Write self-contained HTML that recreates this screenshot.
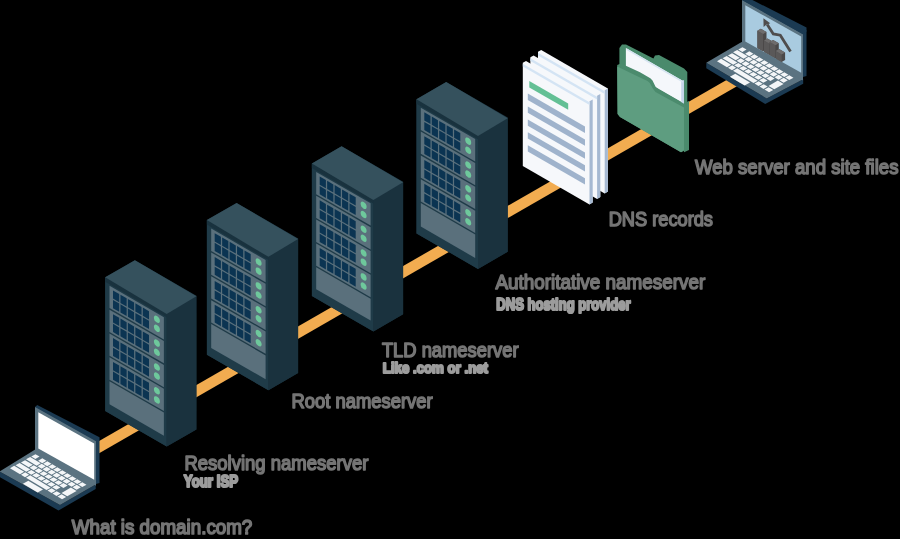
<!DOCTYPE html><html><head><meta charset="utf-8"><style>html,body{margin:0;padding:0;background:#000;}svg{display:block}</style></head><body>
<svg width="900" height="539" viewBox="0 0 900 539">
<defs>
<g id="lapL"><polygon points="-0.50,471.50 60.00,505.00 95.70,484.50 95.70,489.00 58.50,510.50 -0.50,477.00" fill="#1b3a52"/>
<polygon points="-0.50,471.50 35.20,449.50 95.70,484.50 60.00,505.00" fill="#5b7381"/>
<g transform="matrix(1 0.5984 1 -0.5718 -0.5 469.5)" fill="#f4f6f8">
<rect x="4.45" y="27.32" width="4.10" height="4.15"/>
<rect x="11.32" y="27.32" width="4.15" height="4.15"/>
<rect x="16.32" y="27.32" width="4.15" height="4.15"/>
<rect x="21.32" y="27.32" width="4.15" height="4.15"/>
<rect x="26.32" y="27.32" width="4.15" height="4.15"/>
<rect x="31.32" y="27.32" width="4.15" height="4.15"/>
<rect x="36.32" y="27.32" width="4.15" height="4.15"/>
<rect x="41.32" y="27.32" width="4.15" height="4.15"/>
<rect x="46.32" y="27.32" width="4.15" height="4.15"/>
<rect x="51.32" y="27.32" width="4.15" height="4.15"/>
<rect x="4.30" y="22.23" width="10.60" height="4.15"/>
<rect x="15.78" y="22.23" width="4.15" height="4.15"/>
<rect x="20.78" y="22.23" width="4.15" height="4.15"/>
<rect x="25.78" y="22.23" width="4.15" height="4.15"/>
<rect x="30.78" y="22.23" width="4.15" height="4.15"/>
<rect x="35.77" y="22.23" width="4.15" height="4.15"/>
<rect x="40.77" y="22.23" width="4.15" height="4.15"/>
<rect x="45.77" y="22.23" width="4.15" height="4.15"/>
<rect x="50.77" y="22.23" width="4.15" height="4.15"/>
<rect x="4.50" y="16.93" width="7.80" height="4.15"/>
<rect x="13.18" y="16.93" width="4.15" height="4.15"/>
<rect x="18.14" y="16.93" width="4.15" height="4.15"/>
<rect x="23.09" y="16.93" width="4.15" height="4.15"/>
<rect x="28.04" y="16.93" width="4.15" height="4.15"/>
<rect x="32.98" y="16.93" width="4.15" height="4.15"/>
<rect x="37.93" y="16.93" width="4.15" height="4.15"/>
<rect x="42.88" y="16.93" width="4.15" height="4.15"/>
<rect x="4.30" y="11.73" width="10.70" height="4.15"/>
<rect x="15.93" y="11.73" width="4.15" height="4.15"/>
<rect x="20.93" y="11.73" width="4.15" height="4.15"/>
<rect x="25.93" y="11.73" width="4.15" height="4.15"/>
<rect x="30.93" y="11.73" width="4.15" height="4.15"/>
<rect x="35.92" y="11.73" width="4.15" height="4.15"/>
<rect x="40.92" y="11.73" width="4.15" height="4.15"/>
<rect x="50.30" y="11.75" width="5.70" height="9.30"/>
<rect x="4.00" y="6.52" width="10.00" height="4.15"/>
<rect x="15.00" y="6.52" width="4.00" height="4.15"/>
<rect x="20.00" y="6.52" width="20.50" height="4.15"/>
<rect x="41.50" y="6.52" width="4.00" height="4.15"/>
<rect x="46.50" y="6.52" width="4.00" height="4.15"/>
<rect x="51.50" y="6.52" width="4.50" height="4.15"/>
<rect x="23.6" y="-0.2" width="14.7" height="5.4"/>
</g>
<polygon points="37.20,405.00 99.50,437.30 99.50,483.10 96.00,483.96 35.00,407.00" fill="#1b3a52"/>
<polygon points="35.00,407.00 96.00,441.16 96.00,485.70 35.00,450.70" fill="#5b7381"/>
<g transform="matrix(1 0.56 0 1 35 407)">
<rect x="3.3" y="3.35" width="55.9" height="36.3" fill="#ffffff"/>
</g></g>
<g id="lapR"><polygon points="-0.70,469.80 59.70,505.40 96.20,486.20 96.20,490.70 58.20,510.90 -0.70,475.30" fill="#1b3a52"/>
<polygon points="-0.70,469.80 34.60,449.00 96.20,486.20 59.70,505.40" fill="#5b7381"/>
<g transform="matrix(1 0.5984 1 -0.5718 -0.5 469.5)" fill="#f4f6f8">
<rect x="4.45" y="27.32" width="4.10" height="4.15"/>
<rect x="11.32" y="27.32" width="4.15" height="4.15"/>
<rect x="16.32" y="27.32" width="4.15" height="4.15"/>
<rect x="21.32" y="27.32" width="4.15" height="4.15"/>
<rect x="26.32" y="27.32" width="4.15" height="4.15"/>
<rect x="31.32" y="27.32" width="4.15" height="4.15"/>
<rect x="36.32" y="27.32" width="4.15" height="4.15"/>
<rect x="41.32" y="27.32" width="4.15" height="4.15"/>
<rect x="46.32" y="27.32" width="4.15" height="4.15"/>
<rect x="51.32" y="27.32" width="4.15" height="4.15"/>
<rect x="4.30" y="22.23" width="10.60" height="4.15"/>
<rect x="15.78" y="22.23" width="4.15" height="4.15"/>
<rect x="20.78" y="22.23" width="4.15" height="4.15"/>
<rect x="25.78" y="22.23" width="4.15" height="4.15"/>
<rect x="30.78" y="22.23" width="4.15" height="4.15"/>
<rect x="35.77" y="22.23" width="4.15" height="4.15"/>
<rect x="40.77" y="22.23" width="4.15" height="4.15"/>
<rect x="45.77" y="22.23" width="4.15" height="4.15"/>
<rect x="50.77" y="22.23" width="4.15" height="4.15"/>
<rect x="4.50" y="16.93" width="7.80" height="4.15"/>
<rect x="13.18" y="16.93" width="4.15" height="4.15"/>
<rect x="18.14" y="16.93" width="4.15" height="4.15"/>
<rect x="23.09" y="16.93" width="4.15" height="4.15"/>
<rect x="28.04" y="16.93" width="4.15" height="4.15"/>
<rect x="32.98" y="16.93" width="4.15" height="4.15"/>
<rect x="37.93" y="16.93" width="4.15" height="4.15"/>
<rect x="42.88" y="16.93" width="4.15" height="4.15"/>
<rect x="4.30" y="11.73" width="10.70" height="4.15"/>
<rect x="15.93" y="11.73" width="4.15" height="4.15"/>
<rect x="20.93" y="11.73" width="4.15" height="4.15"/>
<rect x="25.93" y="11.73" width="4.15" height="4.15"/>
<rect x="30.93" y="11.73" width="4.15" height="4.15"/>
<rect x="35.92" y="11.73" width="4.15" height="4.15"/>
<rect x="40.92" y="11.73" width="4.15" height="4.15"/>
<rect x="50.30" y="11.75" width="5.70" height="9.30"/>
<rect x="4.00" y="6.52" width="10.00" height="4.15"/>
<rect x="15.00" y="6.52" width="4.00" height="4.15"/>
<rect x="20.00" y="6.52" width="20.50" height="4.15"/>
<rect x="41.50" y="6.52" width="4.00" height="4.15"/>
<rect x="46.50" y="6.52" width="4.00" height="4.15"/>
<rect x="51.50" y="6.52" width="4.50" height="4.15"/>
<rect x="23.6" y="-0.2" width="14.7" height="5.4"/>
</g>
<polygon points="37.20,405.00 99.50,437.30 99.50,483.10 96.00,483.96 35.00,407.00" fill="#1b3a52"/>
<polygon points="35.00,407.00 96.00,441.16 96.00,487.40 35.00,450.20" fill="#5b7381"/>
<g transform="matrix(1 0.56 0 1 35 407)">
<rect x="3.3" y="3.35" width="55.9" height="36.3" fill="#a9cbe0"/>
</g></g>
<filter id="tb" x="-5%" y="-20%" width="110%" height="140%"><feGaussianBlur stdDeviation="0.45"/></filter>
</defs>
<rect width="900" height="539" fill="#000"/>
<polygon points="90.00,446.27 740.00,72.13 740.00,84.43 90.00,458.57" fill="#f2ac50"/>
<use href="#lapL"/>
<g transform="translate(105.2 277.3)"><polygon points="0.00,0.00 29.70,-17.15 91.20,18.36 91.20,152.16 61.50,169.31 0.00,133.80" fill="#1a323e"/>
<polygon points="0.00,0.00 61.50,35.51 61.50,169.31 0.00,133.80" fill="#1f3b48"/>
<polygon points="61.50,35.51 91.20,18.36 91.20,152.16 61.50,169.31" fill="#1a323e"/>
<g transform="matrix(1 0.5774 0 1 0 0)">
<rect x="0" y="0" width="61.5" height="4.5" fill="#19323e"/>
<rect x="4.3" y="6.00" width="54.4" height="22.3" fill="#5a707c"/>
<rect x="7.80" y="8.60" width="6.2" height="8.2" fill="#0b3452"/>
<rect x="15.25" y="8.60" width="6.2" height="8.2" fill="#0b3452"/>
<rect x="22.70" y="8.60" width="6.2" height="8.2" fill="#0b3452"/>
<rect x="30.15" y="8.60" width="6.2" height="8.2" fill="#0b3452"/>
<rect x="37.60" y="8.60" width="6.2" height="8.2" fill="#0b3452"/>
<rect x="7.80" y="18.20" width="6.2" height="8.2" fill="#0b3452"/>
<rect x="15.25" y="18.20" width="6.2" height="8.2" fill="#0b3452"/>
<rect x="22.70" y="18.20" width="6.2" height="8.2" fill="#0b3452"/>
<rect x="30.15" y="18.20" width="6.2" height="8.2" fill="#0b3452"/>
<rect x="37.60" y="18.20" width="6.2" height="8.2" fill="#0b3452"/>
<ellipse cx="51.7" cy="12.10" rx="3.0" ry="3.3" fill="#6ec89c"/>
<ellipse cx="51.7" cy="21.20" rx="3.0" ry="3.3" fill="#6ec89c"/>
<rect x="4.3" y="29.85" width="54.4" height="22.3" fill="#5a707c"/>
<rect x="7.80" y="32.45" width="6.2" height="8.2" fill="#0b3452"/>
<rect x="15.25" y="32.45" width="6.2" height="8.2" fill="#0b3452"/>
<rect x="22.70" y="32.45" width="6.2" height="8.2" fill="#0b3452"/>
<rect x="30.15" y="32.45" width="6.2" height="8.2" fill="#0b3452"/>
<rect x="37.60" y="32.45" width="6.2" height="8.2" fill="#0b3452"/>
<rect x="7.80" y="42.05" width="6.2" height="8.2" fill="#0b3452"/>
<rect x="15.25" y="42.05" width="6.2" height="8.2" fill="#0b3452"/>
<rect x="22.70" y="42.05" width="6.2" height="8.2" fill="#0b3452"/>
<rect x="30.15" y="42.05" width="6.2" height="8.2" fill="#0b3452"/>
<rect x="37.60" y="42.05" width="6.2" height="8.2" fill="#0b3452"/>
<ellipse cx="51.7" cy="35.95" rx="3.0" ry="3.3" fill="#6ec89c"/>
<ellipse cx="51.7" cy="45.05" rx="3.0" ry="3.3" fill="#6ec89c"/>
<rect x="4.3" y="53.70" width="54.4" height="22.3" fill="#5a707c"/>
<rect x="7.80" y="56.30" width="6.2" height="8.2" fill="#0b3452"/>
<rect x="15.25" y="56.30" width="6.2" height="8.2" fill="#0b3452"/>
<rect x="22.70" y="56.30" width="6.2" height="8.2" fill="#0b3452"/>
<rect x="30.15" y="56.30" width="6.2" height="8.2" fill="#0b3452"/>
<rect x="37.60" y="56.30" width="6.2" height="8.2" fill="#0b3452"/>
<rect x="7.80" y="65.90" width="6.2" height="8.2" fill="#0b3452"/>
<rect x="15.25" y="65.90" width="6.2" height="8.2" fill="#0b3452"/>
<rect x="22.70" y="65.90" width="6.2" height="8.2" fill="#0b3452"/>
<rect x="30.15" y="65.90" width="6.2" height="8.2" fill="#0b3452"/>
<rect x="37.60" y="65.90" width="6.2" height="8.2" fill="#0b3452"/>
<ellipse cx="51.7" cy="59.80" rx="3.0" ry="3.3" fill="#6ec89c"/>
<ellipse cx="51.7" cy="68.90" rx="3.0" ry="3.3" fill="#6ec89c"/>
<rect x="4.3" y="77.55" width="54.4" height="22.3" fill="#5a707c"/>
<rect x="7.80" y="80.15" width="6.2" height="8.2" fill="#0b3452"/>
<rect x="15.25" y="80.15" width="6.2" height="8.2" fill="#0b3452"/>
<rect x="22.70" y="80.15" width="6.2" height="8.2" fill="#0b3452"/>
<rect x="30.15" y="80.15" width="6.2" height="8.2" fill="#0b3452"/>
<rect x="37.60" y="80.15" width="6.2" height="8.2" fill="#0b3452"/>
<rect x="7.80" y="89.75" width="6.2" height="8.2" fill="#0b3452"/>
<rect x="15.25" y="89.75" width="6.2" height="8.2" fill="#0b3452"/>
<rect x="22.70" y="89.75" width="6.2" height="8.2" fill="#0b3452"/>
<rect x="30.15" y="89.75" width="6.2" height="8.2" fill="#0b3452"/>
<rect x="37.60" y="89.75" width="6.2" height="8.2" fill="#0b3452"/>
<ellipse cx="51.7" cy="83.65" rx="3.0" ry="3.3" fill="#6ec89c"/>
<ellipse cx="51.7" cy="92.75" rx="3.0" ry="3.3" fill="#6ec89c"/>
<rect x="4.3" y="101.40" width="54.4" height="23.10" fill="#5a707c"/>
</g>
<polygon points="0.00,0.00 29.70,-17.15 91.20,18.96 61.50,36.71" fill="#35515d"/></g>
<g transform="translate(206.9 220.1)"><polygon points="0.00,0.00 29.70,-17.15 91.20,18.36 91.20,152.96 61.50,170.11 0.00,134.60" fill="#1a323e"/>
<polygon points="0.00,0.00 61.50,35.51 61.50,170.11 0.00,134.60" fill="#1f3b48"/>
<polygon points="61.50,35.51 91.20,18.36 91.20,152.96 61.50,170.11" fill="#1a323e"/>
<g transform="matrix(1 0.5774 0 1 0 0)">
<rect x="0" y="0" width="61.5" height="4.5" fill="#19323e"/>
<rect x="4.3" y="6.00" width="54.4" height="22.3" fill="#5a707c"/>
<rect x="7.80" y="8.60" width="6.2" height="8.2" fill="#0b3452"/>
<rect x="15.25" y="8.60" width="6.2" height="8.2" fill="#0b3452"/>
<rect x="22.70" y="8.60" width="6.2" height="8.2" fill="#0b3452"/>
<rect x="30.15" y="8.60" width="6.2" height="8.2" fill="#0b3452"/>
<rect x="37.60" y="8.60" width="6.2" height="8.2" fill="#0b3452"/>
<rect x="7.80" y="18.20" width="6.2" height="8.2" fill="#0b3452"/>
<rect x="15.25" y="18.20" width="6.2" height="8.2" fill="#0b3452"/>
<rect x="22.70" y="18.20" width="6.2" height="8.2" fill="#0b3452"/>
<rect x="30.15" y="18.20" width="6.2" height="8.2" fill="#0b3452"/>
<rect x="37.60" y="18.20" width="6.2" height="8.2" fill="#0b3452"/>
<ellipse cx="51.7" cy="12.10" rx="3.0" ry="3.3" fill="#6ec89c"/>
<ellipse cx="51.7" cy="21.20" rx="3.0" ry="3.3" fill="#6ec89c"/>
<rect x="4.3" y="29.85" width="54.4" height="22.3" fill="#5a707c"/>
<rect x="7.80" y="32.45" width="6.2" height="8.2" fill="#0b3452"/>
<rect x="15.25" y="32.45" width="6.2" height="8.2" fill="#0b3452"/>
<rect x="22.70" y="32.45" width="6.2" height="8.2" fill="#0b3452"/>
<rect x="30.15" y="32.45" width="6.2" height="8.2" fill="#0b3452"/>
<rect x="37.60" y="32.45" width="6.2" height="8.2" fill="#0b3452"/>
<rect x="7.80" y="42.05" width="6.2" height="8.2" fill="#0b3452"/>
<rect x="15.25" y="42.05" width="6.2" height="8.2" fill="#0b3452"/>
<rect x="22.70" y="42.05" width="6.2" height="8.2" fill="#0b3452"/>
<rect x="30.15" y="42.05" width="6.2" height="8.2" fill="#0b3452"/>
<rect x="37.60" y="42.05" width="6.2" height="8.2" fill="#0b3452"/>
<ellipse cx="51.7" cy="35.95" rx="3.0" ry="3.3" fill="#6ec89c"/>
<ellipse cx="51.7" cy="45.05" rx="3.0" ry="3.3" fill="#6ec89c"/>
<rect x="4.3" y="53.70" width="54.4" height="22.3" fill="#5a707c"/>
<rect x="7.80" y="56.30" width="6.2" height="8.2" fill="#0b3452"/>
<rect x="15.25" y="56.30" width="6.2" height="8.2" fill="#0b3452"/>
<rect x="22.70" y="56.30" width="6.2" height="8.2" fill="#0b3452"/>
<rect x="30.15" y="56.30" width="6.2" height="8.2" fill="#0b3452"/>
<rect x="37.60" y="56.30" width="6.2" height="8.2" fill="#0b3452"/>
<rect x="7.80" y="65.90" width="6.2" height="8.2" fill="#0b3452"/>
<rect x="15.25" y="65.90" width="6.2" height="8.2" fill="#0b3452"/>
<rect x="22.70" y="65.90" width="6.2" height="8.2" fill="#0b3452"/>
<rect x="30.15" y="65.90" width="6.2" height="8.2" fill="#0b3452"/>
<rect x="37.60" y="65.90" width="6.2" height="8.2" fill="#0b3452"/>
<ellipse cx="51.7" cy="59.80" rx="3.0" ry="3.3" fill="#6ec89c"/>
<ellipse cx="51.7" cy="68.90" rx="3.0" ry="3.3" fill="#6ec89c"/>
<rect x="4.3" y="77.55" width="54.4" height="22.3" fill="#5a707c"/>
<rect x="7.80" y="80.15" width="6.2" height="8.2" fill="#0b3452"/>
<rect x="15.25" y="80.15" width="6.2" height="8.2" fill="#0b3452"/>
<rect x="22.70" y="80.15" width="6.2" height="8.2" fill="#0b3452"/>
<rect x="30.15" y="80.15" width="6.2" height="8.2" fill="#0b3452"/>
<rect x="37.60" y="80.15" width="6.2" height="8.2" fill="#0b3452"/>
<rect x="7.80" y="89.75" width="6.2" height="8.2" fill="#0b3452"/>
<rect x="15.25" y="89.75" width="6.2" height="8.2" fill="#0b3452"/>
<rect x="22.70" y="89.75" width="6.2" height="8.2" fill="#0b3452"/>
<rect x="30.15" y="89.75" width="6.2" height="8.2" fill="#0b3452"/>
<rect x="37.60" y="89.75" width="6.2" height="8.2" fill="#0b3452"/>
<ellipse cx="51.7" cy="83.65" rx="3.0" ry="3.3" fill="#6ec89c"/>
<ellipse cx="51.7" cy="92.75" rx="3.0" ry="3.3" fill="#6ec89c"/>
<rect x="4.3" y="101.40" width="54.4" height="23.90" fill="#5a707c"/>
</g>
<polygon points="0.00,0.00 29.70,-17.15 91.20,18.96 61.50,36.71" fill="#35515d"/></g>
<g transform="translate(311.9 163.4)"><polygon points="0.00,0.00 29.70,-17.15 91.20,18.36 91.20,150.96 61.50,168.11 0.00,132.60" fill="#1a323e"/>
<polygon points="0.00,0.00 61.50,35.51 61.50,168.11 0.00,132.60" fill="#1f3b48"/>
<polygon points="61.50,35.51 91.20,18.36 91.20,150.96 61.50,168.11" fill="#1a323e"/>
<g transform="matrix(1 0.5774 0 1 0 0)">
<rect x="0" y="0" width="61.5" height="4.5" fill="#19323e"/>
<rect x="4.3" y="6.00" width="54.4" height="22.3" fill="#5a707c"/>
<rect x="7.80" y="8.60" width="6.2" height="8.2" fill="#0b3452"/>
<rect x="15.25" y="8.60" width="6.2" height="8.2" fill="#0b3452"/>
<rect x="22.70" y="8.60" width="6.2" height="8.2" fill="#0b3452"/>
<rect x="30.15" y="8.60" width="6.2" height="8.2" fill="#0b3452"/>
<rect x="37.60" y="8.60" width="6.2" height="8.2" fill="#0b3452"/>
<rect x="7.80" y="18.20" width="6.2" height="8.2" fill="#0b3452"/>
<rect x="15.25" y="18.20" width="6.2" height="8.2" fill="#0b3452"/>
<rect x="22.70" y="18.20" width="6.2" height="8.2" fill="#0b3452"/>
<rect x="30.15" y="18.20" width="6.2" height="8.2" fill="#0b3452"/>
<rect x="37.60" y="18.20" width="6.2" height="8.2" fill="#0b3452"/>
<ellipse cx="51.7" cy="12.10" rx="3.0" ry="3.3" fill="#6ec89c"/>
<ellipse cx="51.7" cy="21.20" rx="3.0" ry="3.3" fill="#6ec89c"/>
<rect x="4.3" y="29.85" width="54.4" height="22.3" fill="#5a707c"/>
<rect x="7.80" y="32.45" width="6.2" height="8.2" fill="#0b3452"/>
<rect x="15.25" y="32.45" width="6.2" height="8.2" fill="#0b3452"/>
<rect x="22.70" y="32.45" width="6.2" height="8.2" fill="#0b3452"/>
<rect x="30.15" y="32.45" width="6.2" height="8.2" fill="#0b3452"/>
<rect x="37.60" y="32.45" width="6.2" height="8.2" fill="#0b3452"/>
<rect x="7.80" y="42.05" width="6.2" height="8.2" fill="#0b3452"/>
<rect x="15.25" y="42.05" width="6.2" height="8.2" fill="#0b3452"/>
<rect x="22.70" y="42.05" width="6.2" height="8.2" fill="#0b3452"/>
<rect x="30.15" y="42.05" width="6.2" height="8.2" fill="#0b3452"/>
<rect x="37.60" y="42.05" width="6.2" height="8.2" fill="#0b3452"/>
<ellipse cx="51.7" cy="35.95" rx="3.0" ry="3.3" fill="#6ec89c"/>
<ellipse cx="51.7" cy="45.05" rx="3.0" ry="3.3" fill="#6ec89c"/>
<rect x="4.3" y="53.70" width="54.4" height="22.3" fill="#5a707c"/>
<rect x="7.80" y="56.30" width="6.2" height="8.2" fill="#0b3452"/>
<rect x="15.25" y="56.30" width="6.2" height="8.2" fill="#0b3452"/>
<rect x="22.70" y="56.30" width="6.2" height="8.2" fill="#0b3452"/>
<rect x="30.15" y="56.30" width="6.2" height="8.2" fill="#0b3452"/>
<rect x="37.60" y="56.30" width="6.2" height="8.2" fill="#0b3452"/>
<rect x="7.80" y="65.90" width="6.2" height="8.2" fill="#0b3452"/>
<rect x="15.25" y="65.90" width="6.2" height="8.2" fill="#0b3452"/>
<rect x="22.70" y="65.90" width="6.2" height="8.2" fill="#0b3452"/>
<rect x="30.15" y="65.90" width="6.2" height="8.2" fill="#0b3452"/>
<rect x="37.60" y="65.90" width="6.2" height="8.2" fill="#0b3452"/>
<ellipse cx="51.7" cy="59.80" rx="3.0" ry="3.3" fill="#6ec89c"/>
<ellipse cx="51.7" cy="68.90" rx="3.0" ry="3.3" fill="#6ec89c"/>
<rect x="4.3" y="77.55" width="54.4" height="22.3" fill="#5a707c"/>
<rect x="7.80" y="80.15" width="6.2" height="8.2" fill="#0b3452"/>
<rect x="15.25" y="80.15" width="6.2" height="8.2" fill="#0b3452"/>
<rect x="22.70" y="80.15" width="6.2" height="8.2" fill="#0b3452"/>
<rect x="30.15" y="80.15" width="6.2" height="8.2" fill="#0b3452"/>
<rect x="37.60" y="80.15" width="6.2" height="8.2" fill="#0b3452"/>
<rect x="7.80" y="89.75" width="6.2" height="8.2" fill="#0b3452"/>
<rect x="15.25" y="89.75" width="6.2" height="8.2" fill="#0b3452"/>
<rect x="22.70" y="89.75" width="6.2" height="8.2" fill="#0b3452"/>
<rect x="30.15" y="89.75" width="6.2" height="8.2" fill="#0b3452"/>
<rect x="37.60" y="89.75" width="6.2" height="8.2" fill="#0b3452"/>
<ellipse cx="51.7" cy="83.65" rx="3.0" ry="3.3" fill="#6ec89c"/>
<ellipse cx="51.7" cy="92.75" rx="3.0" ry="3.3" fill="#6ec89c"/>
<rect x="4.3" y="101.40" width="54.4" height="21.90" fill="#5a707c"/>
</g>
<polygon points="0.00,0.00 29.70,-17.15 91.20,18.96 61.50,36.71" fill="#35515d"/></g>
<g transform="translate(416.5 99.2)"><polygon points="0.00,0.00 29.70,-17.15 91.20,18.36 91.20,152.56 61.50,169.71 0.00,134.20" fill="#1a323e"/>
<polygon points="0.00,0.00 61.50,35.51 61.50,169.71 0.00,134.20" fill="#1f3b48"/>
<polygon points="61.50,35.51 91.20,18.36 91.20,152.56 61.50,169.71" fill="#1a323e"/>
<g transform="matrix(1 0.5774 0 1 0 0)">
<rect x="0" y="0" width="61.5" height="4.5" fill="#19323e"/>
<rect x="4.3" y="6.00" width="54.4" height="22.3" fill="#5a707c"/>
<rect x="7.80" y="8.60" width="6.2" height="8.2" fill="#0b3452"/>
<rect x="15.25" y="8.60" width="6.2" height="8.2" fill="#0b3452"/>
<rect x="22.70" y="8.60" width="6.2" height="8.2" fill="#0b3452"/>
<rect x="30.15" y="8.60" width="6.2" height="8.2" fill="#0b3452"/>
<rect x="37.60" y="8.60" width="6.2" height="8.2" fill="#0b3452"/>
<rect x="7.80" y="18.20" width="6.2" height="8.2" fill="#0b3452"/>
<rect x="15.25" y="18.20" width="6.2" height="8.2" fill="#0b3452"/>
<rect x="22.70" y="18.20" width="6.2" height="8.2" fill="#0b3452"/>
<rect x="30.15" y="18.20" width="6.2" height="8.2" fill="#0b3452"/>
<rect x="37.60" y="18.20" width="6.2" height="8.2" fill="#0b3452"/>
<ellipse cx="51.7" cy="12.10" rx="3.0" ry="3.3" fill="#6ec89c"/>
<ellipse cx="51.7" cy="21.20" rx="3.0" ry="3.3" fill="#6ec89c"/>
<rect x="4.3" y="29.85" width="54.4" height="22.3" fill="#5a707c"/>
<rect x="7.80" y="32.45" width="6.2" height="8.2" fill="#0b3452"/>
<rect x="15.25" y="32.45" width="6.2" height="8.2" fill="#0b3452"/>
<rect x="22.70" y="32.45" width="6.2" height="8.2" fill="#0b3452"/>
<rect x="30.15" y="32.45" width="6.2" height="8.2" fill="#0b3452"/>
<rect x="37.60" y="32.45" width="6.2" height="8.2" fill="#0b3452"/>
<rect x="7.80" y="42.05" width="6.2" height="8.2" fill="#0b3452"/>
<rect x="15.25" y="42.05" width="6.2" height="8.2" fill="#0b3452"/>
<rect x="22.70" y="42.05" width="6.2" height="8.2" fill="#0b3452"/>
<rect x="30.15" y="42.05" width="6.2" height="8.2" fill="#0b3452"/>
<rect x="37.60" y="42.05" width="6.2" height="8.2" fill="#0b3452"/>
<ellipse cx="51.7" cy="35.95" rx="3.0" ry="3.3" fill="#6ec89c"/>
<ellipse cx="51.7" cy="45.05" rx="3.0" ry="3.3" fill="#6ec89c"/>
<rect x="4.3" y="53.70" width="54.4" height="22.3" fill="#5a707c"/>
<rect x="7.80" y="56.30" width="6.2" height="8.2" fill="#0b3452"/>
<rect x="15.25" y="56.30" width="6.2" height="8.2" fill="#0b3452"/>
<rect x="22.70" y="56.30" width="6.2" height="8.2" fill="#0b3452"/>
<rect x="30.15" y="56.30" width="6.2" height="8.2" fill="#0b3452"/>
<rect x="37.60" y="56.30" width="6.2" height="8.2" fill="#0b3452"/>
<rect x="7.80" y="65.90" width="6.2" height="8.2" fill="#0b3452"/>
<rect x="15.25" y="65.90" width="6.2" height="8.2" fill="#0b3452"/>
<rect x="22.70" y="65.90" width="6.2" height="8.2" fill="#0b3452"/>
<rect x="30.15" y="65.90" width="6.2" height="8.2" fill="#0b3452"/>
<rect x="37.60" y="65.90" width="6.2" height="8.2" fill="#0b3452"/>
<ellipse cx="51.7" cy="59.80" rx="3.0" ry="3.3" fill="#6ec89c"/>
<ellipse cx="51.7" cy="68.90" rx="3.0" ry="3.3" fill="#6ec89c"/>
<rect x="4.3" y="77.55" width="54.4" height="22.3" fill="#5a707c"/>
<rect x="7.80" y="80.15" width="6.2" height="8.2" fill="#0b3452"/>
<rect x="15.25" y="80.15" width="6.2" height="8.2" fill="#0b3452"/>
<rect x="22.70" y="80.15" width="6.2" height="8.2" fill="#0b3452"/>
<rect x="30.15" y="80.15" width="6.2" height="8.2" fill="#0b3452"/>
<rect x="37.60" y="80.15" width="6.2" height="8.2" fill="#0b3452"/>
<rect x="7.80" y="89.75" width="6.2" height="8.2" fill="#0b3452"/>
<rect x="15.25" y="89.75" width="6.2" height="8.2" fill="#0b3452"/>
<rect x="22.70" y="89.75" width="6.2" height="8.2" fill="#0b3452"/>
<rect x="30.15" y="89.75" width="6.2" height="8.2" fill="#0b3452"/>
<rect x="37.60" y="89.75" width="6.2" height="8.2" fill="#0b3452"/>
<ellipse cx="51.7" cy="83.65" rx="3.0" ry="3.3" fill="#6ec89c"/>
<ellipse cx="51.7" cy="92.75" rx="3.0" ry="3.3" fill="#6ec89c"/>
<rect x="4.3" y="101.40" width="54.4" height="23.50" fill="#5a707c"/>
</g>
<polygon points="0.00,0.00 29.70,-17.15 91.20,18.96 61.50,36.71" fill="#35515d"/></g>
<use href="#lapR" x="707" y="-407.0"/>
<polygon points="742.60,-5.00 806.50,27.50 806.50,31.50 803.00,34.16 742.00,0.00" fill="#1b3a52"/>
<polyline points="790.5,51.6 780.3,35.2 773.3,34 767.2,24.5" fill="none" stroke="#4f4d4d" stroke-width="2.8" stroke-linejoin="miter"/>
<polygon points="763.4,18.2 770.2,23.2 766.3,24.8 763.6,27" fill="#4f4d4d"/>
<polygon points="757.40,30.70 760.80,28.73 766.50,32.03 766.50,49.23 763.10,51.21 757.40,47.90" fill="#4a4848"/><polygon points="757.40,30.70 763.10,34.01 763.10,51.21 757.40,47.90" fill="#5a5858"/><polygon points="757.40,30.70 760.80,28.73 766.50,32.03 763.10,34.01" fill="#6e6c6c"/>
<polygon points="764.00,40.43 767.40,38.46 773.10,41.76 773.10,53.06 769.70,55.03 764.00,51.73" fill="#4a4848"/><polygon points="764.00,40.43 769.70,43.73 769.70,55.03 764.00,51.73" fill="#5a5858"/><polygon points="764.00,40.43 767.40,38.46 773.10,41.76 769.70,43.73" fill="#6e6c6c"/>
<polygon points="769.70,42.03 773.10,40.06 778.80,43.37 778.80,56.37 775.40,58.34 769.70,55.03" fill="#4a4848"/><polygon points="769.70,42.03 775.40,45.34 775.40,58.34 769.70,55.03" fill="#5a5858"/><polygon points="769.70,42.03 773.10,40.06 778.80,43.37 775.40,45.34" fill="#6e6c6c"/>
<polygon points="775.70,50.91 779.10,48.94 785.10,52.42 785.10,60.02 781.70,61.99 775.70,58.51" fill="#4a4848"/><polygon points="775.70,50.91 781.70,54.39 781.70,61.99 775.70,58.51" fill="#5a5858"/><polygon points="775.70,50.91 779.10,48.94 785.10,52.42 781.70,54.39" fill="#6e6c6c"/>
<polygon points="538.00,51.80 541.20,49.95 607.90,88.46 607.90,191.56 604.70,193.41 538.00,154.90" fill="#f6f8fb"/>
<polygon points="604.70,90.31 607.90,88.46 607.90,191.56 604.70,193.41" fill="#a6b9d2"/>
<polygon points="538.00,52.80 604.70,91.31 604.70,93.91 538.00,55.40" fill="#d4e4f4"/>
<polygon points="530.40,57.30 533.60,55.45 600.30,93.96 600.30,197.06 597.10,198.91 530.40,160.40" fill="#f6f8fb"/>
<polygon points="597.10,95.81 600.30,93.96 600.30,197.06 597.10,198.91" fill="#a6b9d2"/>
<polygon points="530.40,58.30 597.10,96.81 597.10,99.41 530.40,60.90" fill="#d4e4f4"/>
<polygon points="522.80,62.80 526.00,60.95 592.70,99.46 592.70,202.56 589.50,204.41 522.80,165.90" fill="#f6f8fb"/>
<polygon points="589.50,101.31 592.70,99.46 592.70,202.56 589.50,204.41" fill="#a6b9d2"/>
<polygon points="522.80,63.80 589.50,102.31 589.50,104.91 522.80,66.40" fill="#d4e4f4"/>
<g transform="matrix(1 0.5774 0 1 522.8 62.8)">
<rect x="6.5" y="14.55" width="38.9" height="6.3" fill="#63c095"/>
<rect x="5" y="27.90" width="57.2" height="6.3" fill="#9fb3cc"/>
<rect x="5" y="40.80" width="57.2" height="6.3" fill="#9fb3cc"/>
<rect x="5" y="53.70" width="57.2" height="6.3" fill="#9fb3cc"/>
<rect x="5" y="66.60" width="57.2" height="6.3" fill="#9fb3cc"/>
<rect x="5" y="79.50" width="57.2" height="6.3" fill="#9fb3cc"/>
</g>
<polygon points="619.40,48.00 622.00,44.40 626.00,44.40 653.40,58.50 655.00,55.50 659.00,55.00 684.00,68.50 687.30,72.00 687.30,125.00 619.40,90.00" fill="#4a8a6c"/>
<polygon points="625.90,47.90 684.00,81.50 684.00,103.50 625.90,70.00" fill="#f5f7fb"/>
<polygon points="681.20,81.00 684.00,80.00 684.00,104.00 681.20,104.00" fill="#c5d5ea"/>
<polygon points="626.50,48.20 683.00,80.90 683.00,82.70 626.50,50.00" fill="#d6e4f2"/>
<polygon points="684.00,103.00 689.00,101.00 689.00,150.00 684.00,152.30" fill="#4a8a6c"/>
<polygon points="617.20,65.10 621.00,63.60 640.00,72.20 650.30,78.30 652.50,80.50 655.80,87.20 658.50,89.30 684.50,104.00 686.00,106.00 686.00,150.00 681.00,152.30 620.00,117.00 617.60,114.00" fill="#4b8b6d"/>
<polygon points="617.20,66.60 640.00,77.40 647.50,81.00 649.80,83.00 652.80,88.60 655.50,92.00 670.00,100.00 684.00,107.50 684.00,150.00 681.00,152.30 620.00,117.00 617.60,114.00" fill="#5e9d80"/>
<text x="71.8" y="534.3" font-family="Liberation Sans, sans-serif" font-size="21" fill="#747474" stroke="#747474" stroke-width="1.7" stroke-linejoin="round" textLength="180.5" lengthAdjust="spacingAndGlyphs" filter="url(#tb)">What is domain.com?</text>
<text x="184.4" y="470.0" font-family="Liberation Sans, sans-serif" font-size="21" fill="#747474" stroke="#747474" stroke-width="1.6" stroke-linejoin="round" textLength="184" lengthAdjust="spacingAndGlyphs" filter="url(#tb)">Resolving nameserver</text>
<text x="183.8" y="486.9" font-family="Liberation Sans, sans-serif" font-size="16" fill="#9c9c9c" stroke="#9c9c9c" stroke-width="2.2" stroke-linejoin="round" font-weight="bold" textLength="54.3" lengthAdjust="spacingAndGlyphs" filter="url(#tb)">Your ISP</text>
<text x="291.4" y="408.2" font-family="Liberation Sans, sans-serif" font-size="21" fill="#747474" stroke="#747474" stroke-width="1.6" stroke-linejoin="round" textLength="141.3" lengthAdjust="spacingAndGlyphs" filter="url(#tb)">Root nameserver</text>
<text x="381.9" y="357.0" font-family="Liberation Sans, sans-serif" font-size="21" fill="#747474" stroke="#747474" stroke-width="1.6" stroke-linejoin="round" textLength="136.6" lengthAdjust="spacingAndGlyphs" filter="url(#tb)">TLD nameserver</text>
<text x="382.8" y="372.5" font-family="Liberation Sans, sans-serif" font-size="15.5" fill="#9c9c9c" stroke="#9c9c9c" stroke-width="2.2" stroke-linejoin="round" font-weight="bold" textLength="105.2" lengthAdjust="spacingAndGlyphs" filter="url(#tb)">Like .com or .net</text>
<text x="495.4" y="288.9" font-family="Liberation Sans, sans-serif" font-size="21" fill="#747474" stroke="#747474" stroke-width="1.6" stroke-linejoin="round" textLength="209.8" lengthAdjust="spacingAndGlyphs" filter="url(#tb)">Authoritative nameserver</text>
<text x="496.3" y="309.8" font-family="Liberation Sans, sans-serif" font-size="16.5" fill="#9c9c9c" stroke="#9c9c9c" stroke-width="2.2" stroke-linejoin="round" font-weight="bold" textLength="134.2" lengthAdjust="spacingAndGlyphs" filter="url(#tb)">DNS hosting provider</text>
<text x="608.7" y="226.3" font-family="Liberation Sans, sans-serif" font-size="21" fill="#747474" stroke="#747474" stroke-width="1.6" stroke-linejoin="round" textLength="104.3" lengthAdjust="spacingAndGlyphs" filter="url(#tb)">DNS records</text>
<text x="694.9" y="173.6" font-family="Liberation Sans, sans-serif" font-size="21" fill="#747474" stroke="#747474" stroke-width="1.6" stroke-linejoin="round" textLength="203.6" lengthAdjust="spacingAndGlyphs" filter="url(#tb)">Web server and site files</text>
</svg></body></html>
